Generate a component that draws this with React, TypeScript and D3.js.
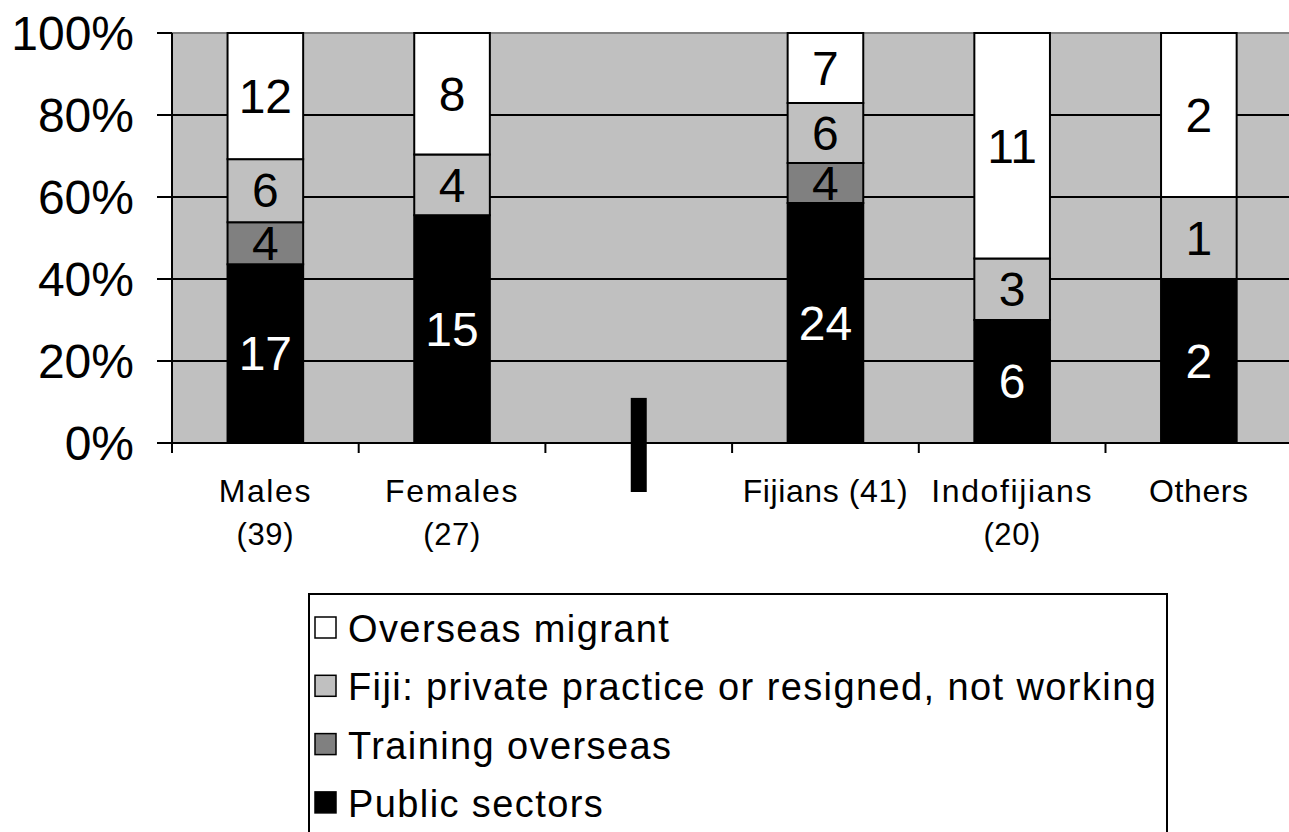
import React from 'react'
import * as d3 from 'd3'

// data (counts per group)
const groups = ['Males', 'Females', 'blank', 'Fijians', 'Indofijians', 'Others']
const groupLabels = [['Males', '(39)'], ['Females', '(27)'], [], ['Fijians (41)'], ['Indofijians', '(20)'], ['Others']]
const publicSectors = [17, 15, 0, 24, 6, 2]
const trainingOverseas = [4, 0, 0, 4, 0, 0]
const fijiPrivate = [6, 4, 0, 6, 3, 1]
const overseasMigrant = [12, 8, 0, 7, 11, 2]

const seriesKeys = ['public', 'training', 'fiji', 'overseas']
const seriesNames = ['Public sectors', 'Training overseas', 'Fiji: private practice or resigned, not working', 'Overseas migrant']
const seriesColors = ['#000000', '#808080', '#c0c0c0', '#ffffff']
const yTicks = [0, 0.2, 0.4, 0.6, 0.8, 1]

const W = 1289
const H = 832
const font = '"Liberation Sans", Arial, sans-serif'

function App() {
  const rows = groups.map((g, i) => ({
    group: g,
    public: publicSectors[i],
    training: trainingOverseas[i],
    fiji: fijiPrivate[i],
    overseas: overseasMigrant[i],
  }))

  const stacked = d3.stack<any>().keys(seriesKeys).offset(d3.stackOffsetExpand)(rows)

  const x = d3.scaleBand().domain(groups).range([172, 172 + 6 * 186.7]).paddingInner(0.595).paddingOuter(0.2975)
  const y = d3.scaleLinear().domain([0, 1]).range([443, 33])
  const step = x.step()
  const left = 172
  const right = W + 2

  const legendX = 309
  const legendTop = 594
  const legendRow = 58.3
  const legendOrder = [3, 2, 1, 0]

  return (
    <svg width={W} height={H} style={{ position: 'absolute', left: 0, top: 0, background: '#fff' }} fontFamily={font}>
      {/* plot area */}
      <rect x={left} y={y(1)} width={right - left} height={y(0) - y(1)} fill="#c0c0c0" />
      <line x1={left} x2={right} y1={y(1)} y2={y(1)} stroke="#808080" strokeWidth={2} />
      {yTicks.filter(t => t > 0 && t < 1).map(t => (
        <line key={t} x1={left} x2={right} y1={y(t)} y2={y(t)} stroke="#000" strokeWidth={2} />
      ))}

      {/* bars */}
      {stacked.map((s, si) => (
        <g key={s.key}>
          {s.map((d, i) => {
            const v = (rows[i] as any)[s.key]
            if (!v) return null
            const y0 = y(d[0]), y1 = y(d[1])
            const cx = (x(groups[i]) as number) + x.bandwidth() / 2
            return (
              <g key={i}>
                <rect x={x(groups[i])} y={y1} width={x.bandwidth()} height={y0 - y1}
                  fill={seriesColors[si]} stroke="#000" strokeWidth={2} />
                <text x={cx} y={(y0 + y1) / 2} dy="0.35em" textAnchor="middle" fontSize={48}
                  fill={si === 0 ? '#fff' : '#000'}>{v}</text>
              </g>
            )
          })}
        </g>
      ))}

      {/* axes */}
      <line x1={left} x2={right} y1={y(0)} y2={y(0)} stroke="#000" strokeWidth={2} />
      <line x1={left} x2={left} y1={y(1)} y2={y(0) + 10} stroke="#000" strokeWidth={2} />
      {yTicks.map(t => (
        <g key={t}>
          <line x1={157} x2={left} y1={y(t)} y2={y(t)} stroke="#000" strokeWidth={2} />
          <text x={134} y={y(t)} dy="0.35em" textAnchor="end" fontSize={48}>{d3.format('.0%')(t)}</text>
        </g>
      ))}
      {groups.map((g, i) => (
        <line key={g} x1={left + step * (i + 1)} x2={left + step * (i + 1)} y1={y(0)} y2={y(0) + 10}
          stroke="#000" strokeWidth={2} />
      ))}
      {groups.map((g, i) => {
        const cx = (x(g) as number) + x.bandwidth() / 2
        return groupLabels[i].map((line, li) => (
          <text key={g + li} x={cx} y={502 + li * 43} textAnchor="middle" fontSize={li === 0 ? 32 : 31}
            letterSpacing={li === 0 && groupLabels[i].length > 1 ? 1.6 : 0.6}>{line}</text>
        ))
      })}

      {/* mark in the empty slot */}
      <rect x={(x('blank') as number) + x.bandwidth() / 2 - 8} y={y(0.11)} width={16} height={492 - y(0.11)} fill="#000" />

      {/* legend */}
      <rect x={legendX} y={legendTop} width={1167 - legendX} height={H - legendTop + 10} fill="#fff" stroke="#000" strokeWidth={2} />
      {legendOrder.map((si, r) => {
        const base = 642 + r * legendRow
        return (
          <g key={si}>
            <rect x={315} y={base - 25} width={21} height={21} fill={seriesColors[si]} stroke="#000" strokeWidth={1.5} />
            <text x={348} y={base} fontSize={38} letterSpacing={1.4}>{seriesNames[si]}</text>
          </g>
        )
      })}
    </svg>
  )
}

export default App
